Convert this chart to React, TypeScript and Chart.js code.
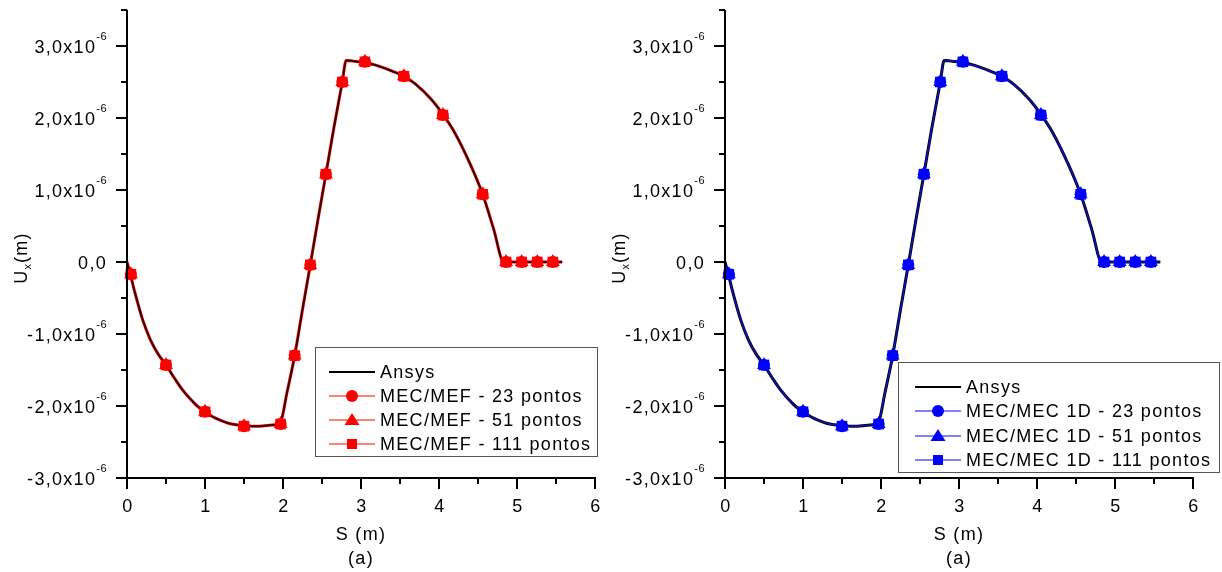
import React, { useEffect, useRef } from 'react';
import { Chart, registerables } from 'chart.js';

Chart.register(...registerables);

// ---------- data (S in m, Ux in m) ----------
const ansysS = [0, 0.05, 0.1, 0.2, 0.3, 0.4, 0.5, 0.6, 0.7, 0.8, 0.9, 1.0, 1.1, 1.2, 1.3, 1.4, 1.5, 1.6, 1.7, 1.8, 1.9, 1.97, 2.05, 2.15, 2.25, 2.35, 2.45, 2.55, 2.65, 2.76, 2.81, 2.9, 3.05, 3.2, 3.4, 3.55, 3.7, 3.9, 4.05, 4.2, 4.4, 4.56, 4.7, 4.83, 5.0, 5.2, 5.4, 5.58];
const ansysUx = [0, -0.2e-6, -0.42e-6, -0.8e-6, -1.08e-6, -1.28e-6, -1.43e-6, -1.6e-6, -1.76e-6, -1.89e-6, -2.0e-6, -2.08e-6, -2.15e-6, -2.2e-6, -2.24e-6, -2.26e-6, -2.27e-6, -2.28e-6, -2.28e-6, -2.27e-6, -2.26e-6, -2.22e-6, -1.82e-6, -1.3e-6, -0.66e-6, -0.04e-6, 0.6e-6, 1.22e-6, 1.85e-6, 2.5e-6, 2.8e-6, 2.79e-6, 2.77e-6, 2.73e-6, 2.65e-6, 2.58e-6, 2.47e-6, 2.26e-6, 2.05e-6, 1.8e-6, 1.36e-6, 0.94e-6, 0.46e-6, 0, 0, 0, 0, 0];

const markerS = [0.05, 0.5, 1.0, 1.5, 1.97, 2.15, 2.35, 2.55, 2.76, 3.05, 3.55, 4.05, 4.56, 4.86, 5.06, 5.26, 5.46];
const pts23 = [-0.17e-6, -1.43e-6, -2.08e-6, -2.28e-6, -2.25e-6, -1.3e-6, -0.04e-6, 1.22e-6, 2.5e-6, 2.78e-6, 2.58e-6, 2.04e-6, 0.94e-6, 0, 0, 0, 0];
const pts51 = [-0.17e-6, -1.43e-6, -2.08e-6, -2.28e-6, -2.25e-6, -1.3e-6, -0.04e-6, 1.22e-6, 2.5e-6, 2.78e-6, 2.58e-6, 2.04e-6, 0.94e-6, 0, 0, 0, 0];
const pts111 = [-0.17e-6, -1.43e-6, -2.08e-6, -2.28e-6, -2.25e-6, -1.3e-6, -0.04e-6, 1.22e-6, 2.5e-6, 2.78e-6, 2.58e-6, 2.04e-6, 0.94e-6, 0, 0, 0, 0];

const yTickValues = [-3e-6, -2e-6, -1e-6, 0, 1e-6, 2e-6, 3e-6];
const yTickLabels = ['-3,0x10', '-2,0x10', '-1,0x10', '0,0', '1,0x10', '2,0x10', '3,0x10'];
const yTickExp = ['-6', '-6', '-6', '', '-6', '-6', '-6'];
const yMinorValues = [-2.5e-6, -1.5e-6, -0.5e-6, 0.5e-6, 1.5e-6, 2.5e-6, 3.5e-6];
const xTickValues = [0, 1, 2, 3, 4, 5, 6];
const xTickLabels = ['0', '1', '2', '3', '4', '5', '6'];
const xMinorValues = [0.5, 1.5, 2.5, 3.5, 4.5, 5.5];

const legendLeft = ['Ansys', 'MEC/MEF - 23 pontos', 'MEC/MEF - 51 pontos', 'MEC/MEF - 111 pontos'];
const legendRight = ['Ansys', 'MEC/MEC 1D - 23 pontos', 'MEC/MEC 1D - 51 pontos', 'MEC/MEC 1D - 111 pontos'];

const FONT = '"Liberation Sans", Arial, sans-serif';
const SPACING = '1.3px';

type Panel = {
  color: string;
  underColor: string;
  topColor: string;
  legend: string[];
  padding: { left: number; right: number; top: number; bottom: number };
  box: { x: number; y: number; w: number; h: number };
  rowY: number[];
  lineX: number;
};

const panels: Panel[] = [
  {
    color: '#ff0000',
    underColor: '#e00000',
    topColor: '#1a0000',
    legend: legendLeft,
    padding: { left: 127, right: 16, top: 10, bottom: 94 },
    box: { x: 315, y: 347, w: 282, h: 109 },
    rowY: [372, 396, 420, 444],
    lineX: 329,
  },
  {
    color: '#0000ff',
    underColor: '#000000',
    topColor: '#1010c0',
    legend: legendRight,
    padding: { left: 114, right: 29, top: 10, bottom: 94 },
    box: { x: 287, y: 362, w: 321, h: 110 },
    rowY: [387, 411, 436, 460],
    lineX: 304,
  },
];

function setFont(ctx: CanvasRenderingContext2D, size: number, spacing: string) {
  ctx.font = `${size}px ${FONT}`;
  (ctx as any).letterSpacing = spacing;
}

function drawMarker(ctx: CanvasRenderingContext2D, kind: string, x: number, y: number, color: string) {
  ctx.fillStyle = color;
  ctx.beginPath();
  if (kind === 'circle') {
    ctx.arc(x, y, 6, 0, Math.PI * 2);
  } else if (kind === 'triangle') {
    ctx.moveTo(x, y - 7);
    ctx.lineTo(x + 7.5, y + 5);
    ctx.lineTo(x - 7.5, y + 5);
    ctx.closePath();
  } else {
    ctx.rect(x - 5, y - 5, 10, 10);
  }
  ctx.fill();
}

function makeAxesPlugin(panel: Panel) {
  return {
    id: 'originAxes',
    afterDraw(chart: any) {
      const ctx: CanvasRenderingContext2D = chart.ctx;
      const { left, right, top, bottom } = chart.chartArea;
      const xs = chart.scales.x;
      const ys = chart.scales.y;
      ctx.save();
      ctx.strokeStyle = '#000';
      ctx.lineWidth = 2;
      ctx.beginPath();
      ctx.moveTo(left, top);
      ctx.lineTo(left, bottom);
      ctx.lineTo(right + 1, bottom);
      ctx.stroke();

      // y ticks
      ctx.beginPath();
      yTickValues.forEach((v) => {
        const py = Math.round(ys.getPixelForValue(v));
        ctx.moveTo(left - 11, py);
        ctx.lineTo(left, py);
      });
      yMinorValues.forEach((v) => {
        const py = Math.round(ys.getPixelForValue(v));
        ctx.moveTo(left - 6, py);
        ctx.lineTo(left, py);
      });
      // x ticks
      xTickValues.forEach((v) => {
        const px = Math.round(xs.getPixelForValue(v));
        ctx.moveTo(px, bottom);
        ctx.lineTo(px, bottom + 11);
      });
      xMinorValues.forEach((v) => {
        const px = Math.round(xs.getPixelForValue(v));
        ctx.moveTo(px, bottom);
        ctx.lineTo(px, bottom + 6);
      });
      ctx.stroke();

      ctx.fillStyle = '#000';
      // y labels
      yTickValues.forEach((v, i) => {
        const py = ys.getPixelForValue(v);
        const rx = left - 20;
        ctx.textBaseline = 'middle';
        ctx.textAlign = 'right';
        const exp = yTickExp[i];
        let expW = 0;
        if (exp) {
          setFont(ctx, 11, '0.5px');
          expW = ctx.measureText(exp).width;
          ctx.fillText(exp, rx, py - 9);
        }
        setFont(ctx, 18, SPACING);
        ctx.fillText(yTickLabels[i], rx - expW, py + 2);
      });
      // x labels
      setFont(ctx, 18, SPACING);
      ctx.textAlign = 'center';
      ctx.textBaseline = 'middle';
      xTickValues.forEach((v, i) => {
        ctx.fillText(xTickLabels[i], xs.getPixelForValue(v) + 1, bottom + 29);
      });
      const cx = (left + right) / 2;
      ctx.fillText('S (m)', cx, bottom + 57);
      ctx.fillText('(a)', cx, bottom + 81);

      // y title (rotated)
      ctx.save();
      ctx.translate(left - 105, (top + bottom) / 2 + 14);
      ctx.rotate(-Math.PI / 2);
      ctx.textAlign = 'left';
      ctx.textBaseline = 'middle';
      setFont(ctx, 18, SPACING);
      const uW = ctx.measureText('U').width;
      setFont(ctx, 11, '0px');
      const xW = ctx.measureText('x').width + 1;
      setFont(ctx, 18, SPACING);
      const mW = ctx.measureText('(m)').width;
      const total = uW + xW + mW;
      let tx = -total / 2;
      ctx.fillText('U', tx, 0);
      tx += uW;
      setFont(ctx, 11, '0px');
      ctx.fillText('x', tx, 6);
      tx += xW;
      setFont(ctx, 18, SPACING);
      ctx.fillText('(m)', tx, 0);
      ctx.restore();

      // legend
      const b = panel.box;
      ctx.fillStyle = '#fff';
      ctx.fillRect(b.x, b.y, b.w, b.h);
      ctx.strokeStyle = '#555';
      ctx.lineWidth = 1;
      ctx.strokeRect(b.x + 0.5, b.y + 0.5, b.w, b.h);
      const kinds = ['', 'circle', 'triangle', 'rect'];
      panel.legend.forEach((label, i) => {
        const ry = panel.rowY[i];
        const lx = panel.lineX;
        ctx.strokeStyle = i === 0 ? '#000' : panel.color;
        ctx.lineWidth = i === 0 ? 2 : 1;
        ctx.beginPath();
        ctx.moveTo(lx, ry);
        ctx.lineTo(lx + 46, ry);
        ctx.stroke();
        if (i > 0) drawMarker(ctx, kinds[i], lx + 23, ry, panel.color);
        ctx.fillStyle = '#000';
        setFont(ctx, 18, SPACING);
        ctx.textAlign = 'left';
        ctx.textBaseline = 'middle';
        ctx.fillText(label, lx + 51, ry + 1);
      });
      ctx.restore();
    },
  };
}

function buildConfig(panel: Panel): any {
  const curve = ansysS.map((s, i) => ({ x: s, y: ansysUx[i] }));
  const m23 = markerS.map((s, i) => ({ x: s, y: pts23[i] }));
  const m51 = markerS.map((s, i) => ({ x: s, y: pts51[i] }));
  const m111 = markerS.map((s, i) => ({ x: s, y: pts111[i] }));
  return {
    type: 'line',
    data: {
      datasets: [
        {
          label: 'under',
          data: curve,
          borderColor: panel.underColor,
          borderWidth: 3,
          pointRadius: 0,
          cubicInterpolationMode: 'monotone',
          clip: false,
          order: 10,
        },
        {
          label: 'Ansys',
          data: curve,
          borderColor: panel.topColor,
          borderWidth: 1.5,
          pointRadius: 0,
          cubicInterpolationMode: 'monotone',
          clip: false,
          order: 9,
        },
        {
          label: panel.legend[1],
          data: m23,
          showLine: false,
          pointStyle: 'circle',
          pointRadius: 6,
          backgroundColor: panel.color,
          borderColor: panel.color,
          borderWidth: 0,
          clip: false,
          order: 3,
        },
        {
          label: panel.legend[2],
          data: m51,
          showLine: false,
          pointStyle: 'triangle',
          pointRadius: 8,
          backgroundColor: panel.color,
          borderColor: panel.color,
          borderWidth: 0,
          clip: false,
          order: 2,
        },
        {
          label: panel.legend[3],
          data: m111,
          showLine: false,
          pointStyle: 'rect',
          pointRadius: 7.5,
          backgroundColor: panel.color,
          borderColor: panel.color,
          borderWidth: 0,
          clip: false,
          order: 1,
        },
      ],
    },
    options: {
      animation: false,
      responsive: false,
      maintainAspectRatio: false,
      devicePixelRatio: 1,
      layout: { padding: panel.padding },
      plugins: { legend: { display: false }, tooltip: { enabled: false } },
      events: [],
      scales: {
        x: { type: 'linear', min: 0, max: 6, display: false },
        y: { type: 'linear', min: -3e-6, max: 3.5e-6, display: false },
      },
    },
    plugins: [makeAxesPlugin(panel)],
  };
}

function Panel({ panel, left }: { panel: Panel; left: number }) {
  const ref = useRef<HTMLCanvasElement | null>(null);
  useEffect(() => {
    if (!ref.current) return;
    const chart = new Chart(ref.current, buildConfig(panel));
    return () => chart.destroy();
  }, [panel]);
  return (
    <canvas
      ref={ref}
      width={611}
      height={572}
      style={{ position: 'absolute', left, top: 0, width: 611, height: 572 }}
    />
  );
}

export default function App() {
  useEffect(() => {
    document.body.style.margin = '0';
    document.body.style.background = '#fff';
  }, []);
  return (
    <div style={{ position: 'relative', width: 1222, height: 572, background: '#fff', overflow: 'hidden' }}>
      <Panel panel={panels[0]} left={0} />
      <Panel panel={panels[1]} left={611} />
    </div>
  );
}
